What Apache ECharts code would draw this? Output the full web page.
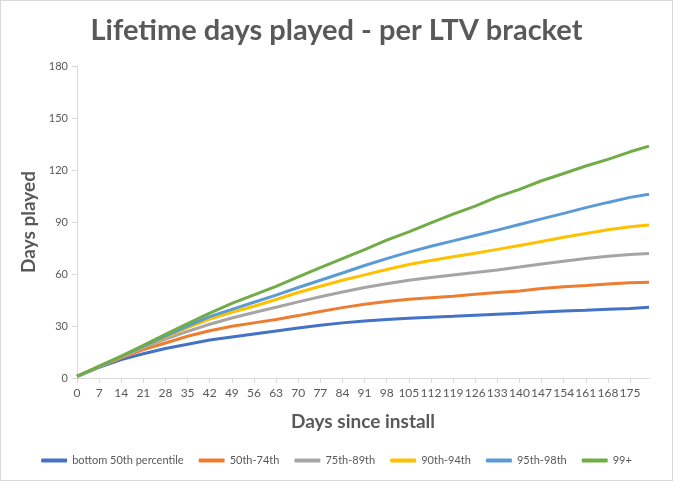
<!DOCTYPE html>
<html>
<head>
<meta charset="utf-8">
<script src="https://cdn.jsdelivr.net/npm/echarts@6/dist/echarts.min.js"></script>
<style>
  html, body { margin: 0; padding: 0; background: #fff; }
  #wrap { position: relative; width: 673px; height: 481px; }
  #chart { width: 673px; height: 481px; }
  #frame { position: absolute; left: 0; top: 0; width: 673px; height: 481px; box-sizing: border-box; border: 1px solid #d9d9d9; pointer-events: none; }
</style>
</head>
<body>
<div id="wrap">
  <div id="chart"></div>
  <div id="frame"></div>
</div>
<script>
// days since install, sampled weekly from the picture (last point = end of line)
const days = [0, 7, 14, 21, 28, 35, 42, 49, 56, 63, 70, 77, 84, 91, 98, 105, 112, 119, 126, 133, 140, 147, 154, 161, 168, 175, 181];
const xTicks = [0, 7, 14, 21, 28, 35, 42, 49, 56, 63, 70, 77, 84, 91, 98, 105, 112, 119, 126, 133, 140, 147, 154, 161, 168, 175];

const bottom50 = [1, 6.2, 10.6, 14.0, 17.0, 19.5, 21.9, 23.7, 25.4, 27.1, 28.9, 30.4, 31.8, 32.9, 33.7, 34.5, 35.1, 35.6, 36.2, 36.8, 37.4, 38.1, 38.7, 39.1, 39.7, 40.1, 40.8];
const p50to74 = [1, 6.4, 11.6, 16.4, 20.2, 24.1, 27.3, 29.8, 31.8, 33.7, 36.0, 38.4, 40.6, 42.6, 44.1, 45.4, 46.3, 47.2, 48.3, 49.3, 50.2, 51.6, 52.6, 53.4, 54.3, 54.9, 55.3];
const p75to89 = [1, 6.5, 12.1, 17.5, 22.5, 26.9, 31.0, 34.6, 37.8, 40.8, 43.9, 46.9, 49.6, 52.2, 54.4, 56.4, 58.0, 59.4, 60.8, 62.3, 64.0, 65.8, 67.4, 68.9, 70.2, 71.2, 71.8];
const p90to94 = [1, 6.5, 12.2, 17.9, 23.6, 29.1, 34.0, 37.9, 41.4, 45.3, 49.3, 52.9, 56.4, 59.5, 62.6, 65.5, 67.8, 70.0, 72.0, 74.2, 76.5, 78.8, 81.2, 83.4, 85.5, 87.2, 88.3];
const p95to98 = [1, 6.6, 12.4, 18.3, 24.2, 29.9, 35.4, 39.6, 43.7, 47.8, 52.2, 56.4, 60.6, 64.9, 68.9, 72.6, 76.0, 79.1, 82.2, 85.3, 88.6, 91.8, 95.0, 98.3, 101.3, 104.2, 106.0];
const p99 = [1, 6.8, 12.6, 18.9, 25.2, 31.4, 37.4, 43.0, 48.0, 52.9, 58.3, 63.7, 68.9, 74.1, 79.5, 84.3, 89.5, 94.5, 99.2, 104.5, 108.8, 113.8, 118.0, 122.3, 126.1, 130.5, 133.8];

const seriesNames = ['bottom 50th percentile', '50th-74th', '75th-89th', '90th-94th', '95th-98th', '99+'];
const seriesValues = [bottom50, p50to74, p75to89, p90to94, p95to98, p99];
const colors = ['#4472C4', '#ED7D31', '#A5A5A5', '#FFC000', '#5B9BD5', '#70AD47'];

const FONT = 'Lato, "Open Sans", sans-serif';
const GREY = '#595959';

const chart = echarts.init(document.getElementById('chart'), null, { renderer: 'canvas' });

const series = seriesNames.map((name, i) => ({
    name,
    type: 'line',
    data: days.map((d, j) => [d, seriesValues[i][j]]),
    symbol: 'none',
    smooth: false,
    lineStyle: { color: colors[i], width: 3 },
    itemStyle: { color: colors[i] },
}));

chart.setOption({
    animation: false,
    color: colors,
    title: {
        text: 'Lifetime days played - per LTV bracket',
        left: 'center',
        top: 11,
        textStyle: { fontFamily: FONT, fontSize: 29, fontWeight: 'bold', color: GREY },
    },
    legend: {
        bottom: 10,
        left: 'center',
        icon: 'roundRect',
        itemWidth: 26,
        itemHeight: 4,
        itemGap: 15,
        textStyle: { fontFamily: FONT, fontSize: 11, color: GREY },
        data: seriesNames,
    },
    grid: { left: 77, right: 24, top: 66, bottom: 103, containLabel: false },
    xAxis: {
        type: 'value',
        min: 0,
        max: 181,
        name: 'Days since install',
        nameLocation: 'middle',
        nameGap: 34,
        nameTextStyle: { fontFamily: FONT, fontSize: 19, fontWeight: 'bold', color: GREY },
        axisLine: { show: true, lineStyle: { color: '#d9d9d9' } },
        axisTick: { show: true, length: 5, customValues: xTicks, lineStyle: { color: '#d9d9d9' } },
        axisLabel: { customValues: xTicks, fontFamily: FONT, fontSize: 12, color: GREY, margin: 9, hideOverlap: false },
        splitLine: { show: false },
    },
    yAxis: {
        type: 'value',
        min: 0,
        max: 180,
        interval: 30,
        name: 'Days played',
        nameLocation: 'middle',
        nameGap: 27,
        nameTextStyle: { fontFamily: FONT, fontSize: 19, fontWeight: 'bold', color: GREY },
        axisLine: { show: true, lineStyle: { color: '#d9d9d9' } },
        axisTick: { show: true, length: 5, lineStyle: { color: '#d9d9d9' } },
        axisLabel: { fontFamily: FONT, fontSize: 11, color: GREY, margin: 9 },
        splitLine: { show: false },
    },
    series,
});
</script>
</body>
</html>
